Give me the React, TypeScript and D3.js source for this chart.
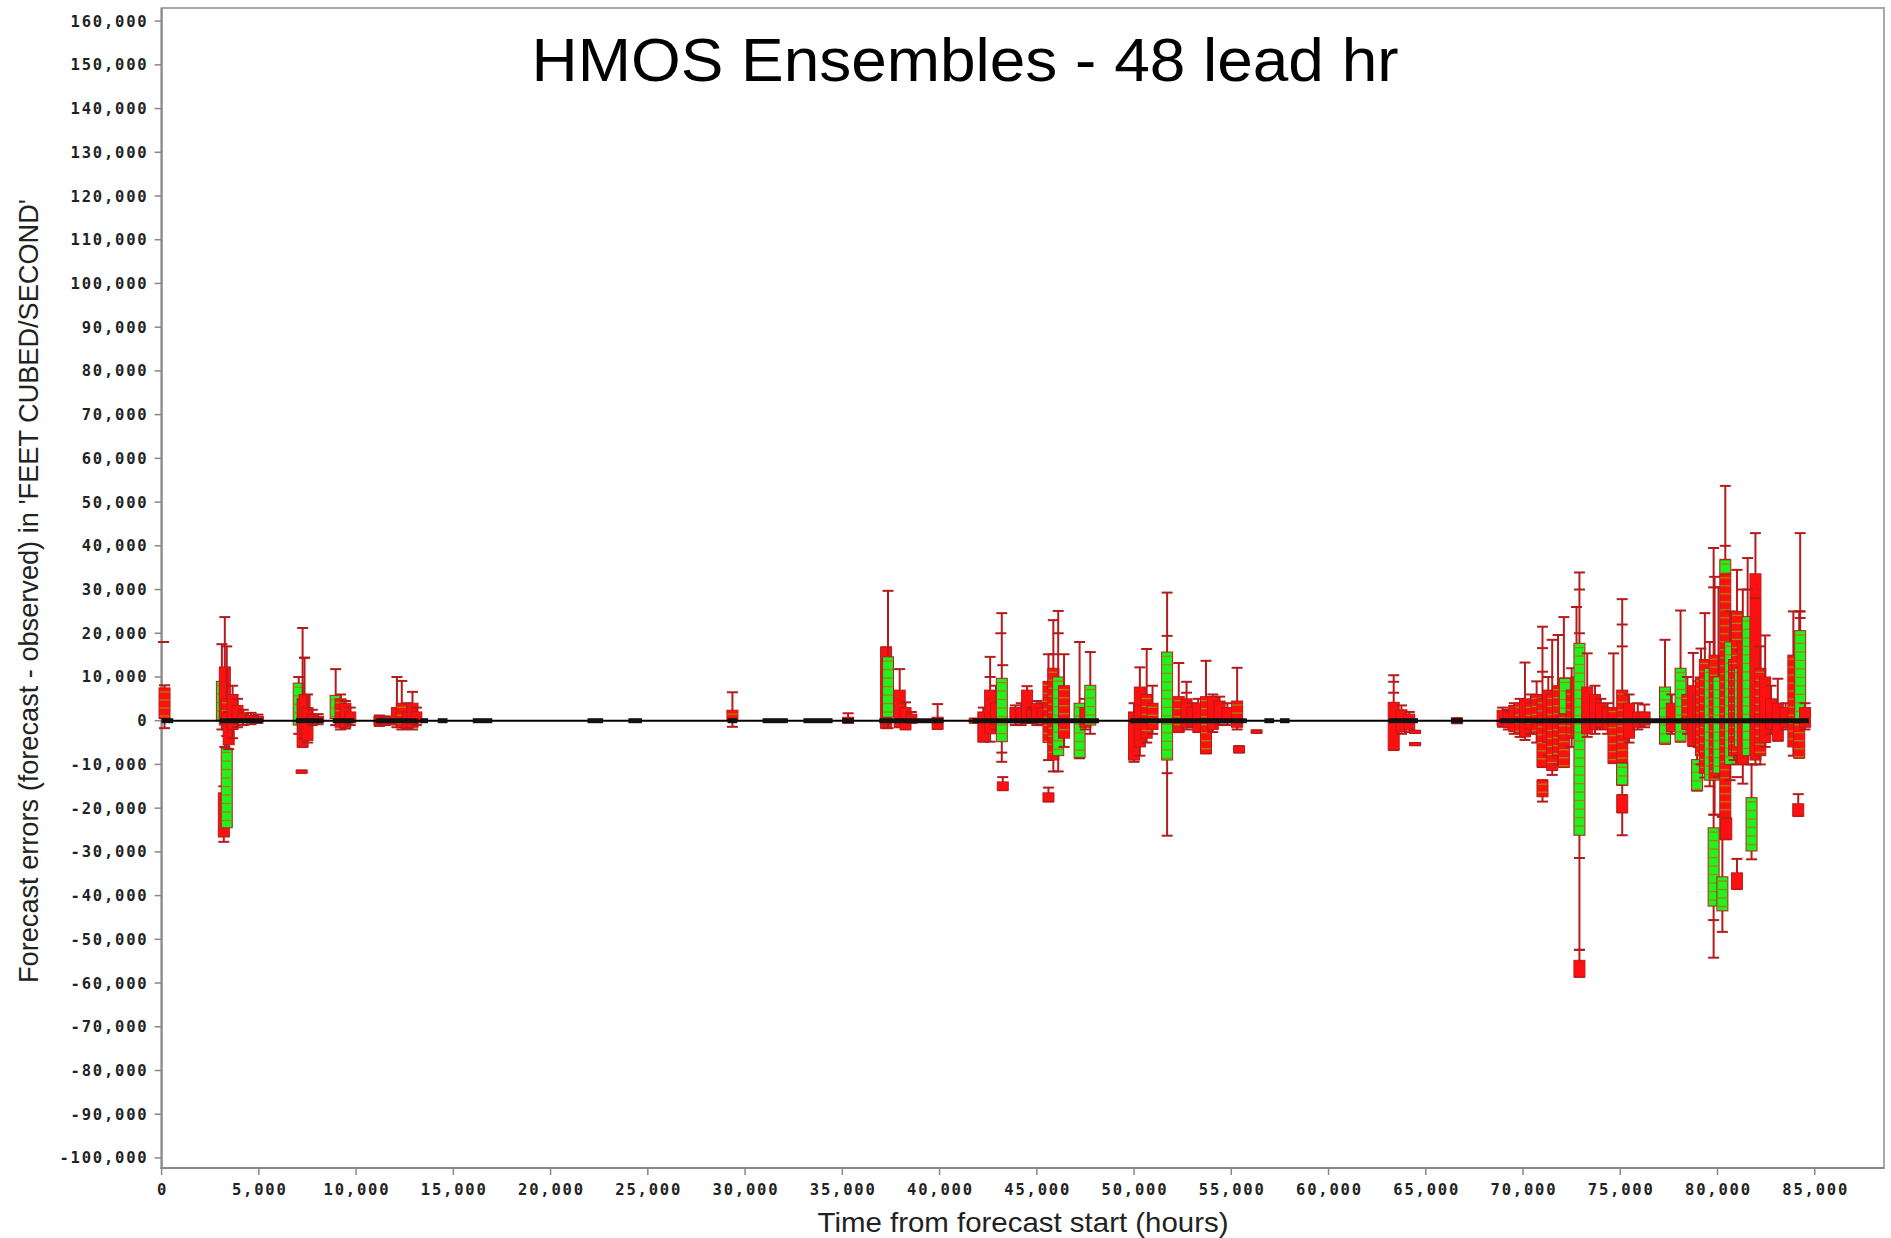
import React from 'react';
import * as d3 from 'd3';

const W = 1891;
const H = 1238;

const titleText = 'HMOS Ensembles - 48 lead hr';
const xLabel = 'Time from forecast start (hours)';
const yLabel = "Forecast errors (forecast - observed) in 'FEET CUBED/SECOND'";

const xTicks = [0, 5000, 10000, 15000, 20000, 25000, 30000, 35000, 40000, 45000, 50000, 55000, 60000, 65000, 70000, 75000, 80000, 85000];
const yTicks = [160000, 150000, 140000, 130000, 120000, 110000, 100000, 90000, 80000, 70000, 60000, 50000, 40000, 30000, 20000, 10000, 0, -10000, -20000, -30000, -40000, -50000, -60000, -70000, -80000, -90000, -100000];

// forecast errors in thousands of cfs: [time (h), min, boxLow, boxHigh, max, kind]
// kind: r = red box, s = red box with member stripes, g = green box with member stripes
const boxItems: [number, number, number, number, number, string][] = [
  [150, -1.7, 0.5, 7.5, 8.1, 's'],
  [3100, -2.0, 0.0, 9.0, 17.5, 'g'],
  [3250, -6.0, -1.0, 12.3, 23.7, 'r'],
  [3350, -3.5, 0.0, 5.0, 17.0, 's'],
  [3200, -27.7, -26.6, -16.5, -15.0, 'r'],
  [3350, -24.0, -24.5, -6.3, -2.0, 'g'],
  [3450, -6.5, -5.5, 0.0, 2.0, 'r'],
  [3650, -4.0, -2.0, 6.0, 8.0, 'r'],
  [3900, -1.5, -0.5, 3.5, 5.0, 'r'],
  [4200, -1.0, -0.3, 1.8, 2.5, 'r'],
  [4600, -0.8, -0.3, 1.2, 1.8, 'r'],
  [4950, -0.5, -0.2, 1.0, 1.4, 'r'],
  [7050, -3.0, -1.0, 8.6, 10.0, 'g'],
  [7250, -6.0, -6.0, 5.0, 21.2, 'r'],
  [7350, -4.0, -3.0, 6.0, 14.4, 'r'],
  [7200, -11.9, -12.0, -11.3, -11.4, 'r'],
  [7500, -5.0, -4.5, 3.0, 6.0, 'r'],
  [7750, -1.0, -0.5, 1.5, 2.5, 'r'],
  [8050, -0.8, -0.4, 1.0, 1.5, 'r'],
  [8950, -1.0, 0.5, 5.8, 11.8, 'g'],
  [9200, -2.0, -1.5, 5.0, 6.0, 's'],
  [9450, -1.8, -1.5, 4.0, 4.5, 'r'],
  [9700, -1.0, -0.5, 2.0, 3.0, 'r'],
  [11200, -1.2, -1.0, 1.0, 1.2, 'r'],
  [11500, -1.0, -0.8, 0.8, 1.0, 'r'],
  [12100, -1.5, -1.0, 3.0, 10.0, 'r'],
  [12350, -2.0, -1.5, 4.0, 9.1, 's'],
  [12650, -1.8, -1.5, 2.0, 4.0, 'r'],
  [12900, -2.0, -1.5, 4.0, 6.6, 'r'],
  [13100, -1.0, -0.5, 2.0, 3.0, 'r'],
  [29350, -1.4, 0.0, 2.4, 6.5, 's'],
  [35300, -0.5, -0.5, 0.8, 1.7, 'r'],
  [37250, -1.7, -1.7, 16.8, 16.8, 'r'],
  [37350, -1.7, 0.8, 14.6, 29.7, 'g'],
  [37950, -1.5, -1.5, 7.0, 11.8, 'r'],
  [38250, -2.0, -2.0, 3.0, 4.2, 'r'],
  [38550, -0.5, -0.5, 1.5, 2.0, 'r'],
  [39900, -1.9, -1.9, 0.8, 3.8, 'r'],
  [41800, -0.5, -0.4, 0.4, 0.5, 'r'],
  [42250, -4.8, -4.8, 2.0, 3.0, 'r'],
  [42600, -4.8, -3.0, 7.0, 14.6, 'r'],
  [42900, -2.0, -1.0, 4.0, 8.0, 'r'],
  [43200, -9.4, -4.8, 9.7, 24.6, 'g'],
  [43250, -15.9, -15.9, -14.0, -12.9, 'r'],
  [43900, -1.0, -0.5, 3.0, 3.5, 'r'],
  [44200, -1.0, -0.5, 3.0, 4.0, 'r'],
  [44500, -0.5, 0.0, 7.0, 7.9, 'r'],
  [44750, -0.5, 0.0, 2.5, 3.0, 'r'],
  [45000, -1.0, -0.5, 4.0, 4.5, 'r'],
  [45300, -1.0, -0.5, 3.0, 4.0, 'r'],
  [45600, -9.0, -5.0, 9.0, 15.2, 's'],
  [45850, -11.6, -9.0, 12.0, 23.0, 's'],
  [46100, -11.6, -8.0, 10.0, 25.1, 'g'],
  [46400, -6.0, -4.0, 8.0, 15.2, 's'],
  [45600, -18.5, -18.5, -16.5, -15.3, 'r'],
  [47200, -8.6, -8.4, 4.0, 18.0, 'g'],
  [47500, -2.0, -1.5, 3.0, 5.0, 'r'],
  [47750, -3.0, -1.0, 8.1, 15.7, 'g'],
  [50000, -9.4, -9.0, 2.0, 4.0, 'r'],
  [50300, -8.0, -6.0, 7.7, 12.2, 'r'],
  [50650, -5.0, -4.0, 6.0, 16.4, 's'],
  [50950, -3.0, -2.0, 4.0, 8.0, 's'],
  [51700, -26.3, -9.0, 15.7, 29.3, 'g'],
  [52300, -2.6, -2.6, 5.5, 13.2, 's'],
  [52700, -2.0, -1.5, 5.0, 8.9, 'r'],
  [53000, -1.5, -1.0, 3.0, 4.0, 'r'],
  [53300, -2.6, -2.6, 4.0, 5.0, 'r'],
  [53700, -7.5, -7.5, 5.5, 13.7, 's'],
  [54050, -2.6, -2.0, 5.5, 6.0, 'r'],
  [54400, -1.0, -0.5, 4.5, 5.5, 'r'],
  [54800, -1.0, -0.5, 3.0, 4.0, 'r'],
  [55300, -2.0, -1.5, 4.5, 12.1, 's'],
  [55400, -7.3, -7.3, -5.8, -5.8, 'r'],
  [56300, -2.8, -2.8, -2.2, -2.2, 'r'],
  [63350, -6.7, -6.7, 4.2, 10.4, 'r'],
  [63750, -3.0, -2.5, 2.5, 3.5, 'r'],
  [64150, -2.6, -2.0, 1.5, 2.0, 'r'],
  [64450, -5.6, -5.6, -5.1, -5.1, 'r'],
  [64450, -2.8, -2.8, -2.3, -2.3, 'r'],
  [66600, -0.6, -0.6, 0.6, 0.6, 'r'],
  [68950, -1.4, -1.2, 2.4, 3.0, 'r'],
  [69250, -2.0, -1.5, 2.0, 2.5, 'r'],
  [69550, -3.0, -2.5, 3.5, 4.0, 'r'],
  [69850, -3.7, -3.0, 4.0, 5.0, 's'],
  [70100, -4.4, -3.7, 5.0, 13.3, 'r'],
  [70400, -3.0, -2.0, 4.0, 6.0, 's'],
  [70700, -5.0, -3.0, 6.0, 9.0, 's'],
  [71000, -10.6, -10.6, 5.0, 21.5, 's'],
  [71000, -18.5, -17.4, -13.6, -13.6, 's'],
  [71300, -8.0, -5.0, 7.0, 10.0, 'r'],
  [71500, -12.4, -11.4, 6.0, 18.5, 's'],
  [71800, -10.0, -8.0, 8.0, 19.6, 's'],
  [72100, -10.6, -10.6, 1.6, 23.7, 's'],
  [72150, 1.6, 1.6, 9.7, 9.7, 'g'],
  [72500, -6.0, -4.0, 7.0, 12.0, 's'],
  [72750, -4.0, -3.0, 10.0, 26.0, 'r'],
  [72900, -52.4, -26.2, 17.7, 33.9, 'g'],
  [72900, -58.6, -58.6, -54.8, -52.4, 'r'],
  [73300, -3.7, -3.0, 7.7, 15.4, 'r'],
  [73700, -3.0, -2.0, 6.0, 8.0, 'r'],
  [74000, -2.0, -1.5, 4.0, 5.0, 'r'],
  [74350, -3.0, -2.0, 3.0, 4.0, 'r'],
  [74650, -9.7, -9.7, 3.0, 15.4, 's'],
  [75100, -26.2, -14.7, 7.0, 27.8, 's'],
  [75100, -14.7, -14.7, -9.7, -9.7, 'g'],
  [75100, -21.0, -21.0, -17.0, -17.0, 'r'],
  [75450, -5.0, -4.0, 4.0, 6.0, 'r'],
  [75900, -2.0, -1.5, 2.0, 4.0, 'r'],
  [76250, -1.5, -1.0, 2.0, 3.7, 'r'],
  [77300, -5.3, -5.3, 7.7, 18.5, 'g'],
  [77650, -3.0, -2.5, 4.0, 6.0, 'r'],
  [78100, -4.8, -4.8, 12.0, 25.2, 'g'],
  [78450, -3.0, -2.0, 6.0, 10.0, 's'],
  [78750, -5.8, -5.8, 8.0, 15.5, 'r'],
  [78950, -16.0, -16.0, -8.9, -5.8, 'g'],
  [79000, -6.0, -5.0, 6.0, 9.0, 'r'],
  [79150, -10.0, -8.0, 10.0, 16.5, 's'],
  [79350, -13.0, -12.0, 14.0, 24.6, 's'],
  [79600, -15.0, -13.6, 12.0, 18.0, 'g'],
  [79800, -54.2, -42.4, -24.5, 39.5, 'g'],
  [79850, -21.5, -13.6, 15.0, 32.9, 's'],
  [80050, -12.9, -12.0, 10.0, 30.5, 'g'],
  [80250, -48.3, -43.5, -35.7, -22.0, 'g'],
  [80400, -27.1, -27.1, 33.6, 53.7, 's'],
  [80400, 33.6, 33.6, 36.8, 36.8, 'g'],
  [80450, -27.1, -27.1, -22.3, -22.3, 'r'],
  [80650, -13.6, -10.0, 18.0, 25.0, 'g'],
  [80850, -9.0, -8.0, 14.0, 20.0, 's'],
  [81000, -38.5, -38.5, -34.8, -31.6, 'r'],
  [81000, -10.0, -8.0, 25.0, 34.5, 's'],
  [81150, -8.0, -6.0, 12.0, 16.0, 'g'],
  [81300, -14.4, -10.0, 18.0, 30.0, 'r'],
  [81550, -10.0, -8.0, 23.8, 37.2, 'g'],
  [81750, -31.7, -29.8, -17.6, -10.0, 'g'],
  [81950, -10.0, -9.0, 33.6, 42.9, 'r'],
  [82200, -10.0, -8.0, 12.0, 17.0, 's'],
  [82450, -6.0, -5.0, 10.0, 19.5, 'r'],
  [82750, -3.0, -2.0, 5.0, 8.0, 'r'],
  [83100, -4.6, -4.6, 4.0, 9.6, 'r'],
  [83500, -2.0, -1.5, 3.0, 4.0, 'r'],
  [83900, -8.0, -6.0, 15.0, 25.0, 's'],
  [84200, -8.5, -8.5, 0.0, 25.0, 's'],
  [84250, 0.0, 0.0, 20.6, 42.9, 'g'],
  [84150, -21.8, -21.8, -19.0, -16.8, 'r'],
  [84500, -2.0, -1.5, 3.0, 4.0, 'r'],
];

// isolated whisker caps (thousands of cfs): [time (h), value]
const capMarks: [number, number][] = [
  [100, 18.0], [7350, 14.4], [43150, 20.0], [43250, 12.7], [43200, -7.3],
  [51700, 19.4], [51700, -12.0], [52700, 6.4], [63350, 8.9], [63350, 6.4],
  [71000, 16.6], [71000, 11.2], [72900, 30.0], [72900, 20.0], [72900, -31.4],
  [75100, 22.0], [75100, 17.0], [79800, 30.5], [79800, -45.6], [79800, -21.5],
  [80400, 40.0], [81000, -12.9], [45850, 15.2], [46100, 20.0], [42600, 10.0],
  [84250, 25.0], [84250, 23.5], [81550, 30.0], [81950, 28.0],
];

// spans of near-zero members (h) that draw as a thick black band on the zero line
const zeroSpans: [number, number][] = [
  [0, 600], [3000, 5200], [6900, 8300], [8800, 9900], [11000, 13200],
  [13300, 13700], [14200, 14700], [16000, 17000], [21900, 22700], [24000, 24700],
  [29100, 29600], [30900, 32200], [33000, 34500], [35000, 35600], [36900, 40200],
  [41700, 48200], [49800, 55800], [56700, 57200], [57500, 58000], [63100, 64600],
  [66300, 66900], [68800, 84700],
];
const zeroLineEnd = 84700;

const RED = '#ff1010';
const GREEN = '#22f022';
const OLIVE = '#9c8a00';
const DARK = '#b41c1c';

export default function App() {
  const left = 161.6, right = 1884, top = 8, bottom = 1168;
  const x = d3.scaleLinear().domain([0, 88560]).range([left, right]);
  const y = d3.scaleLinear().domain([-102300, 163000]).range([bottom, top]);
  const fmt = d3.formatLocale({ decimal: '.', thousands: ',', grouping: [3], currency: ['$', ''], minus: '-' }).format(',');
  const boxW = 11;
  const capW = 11;
  const tickFont = { fontFamily: "'DejaVu Sans Mono', monospace", fontWeight: 700, fontSize: 15.5, letterSpacing: 1.8 } as const;

  const marks: React.ReactNode[] = [];
  boxItems.forEach((d, i) => {
    const [t, mn, lo, hi, mx, kind] = d;
    const cx = x(t);
    const yMin = y(mn * 1000), yMax = y(mx * 1000), yLo = y(lo * 1000), yHi = y(hi * 1000);
    const parts: React.ReactNode[] = [];
    if (yMin - yMax > 0.5) {
      parts.push(<line key="w" x1={cx} x2={cx} y1={yMax} y2={yMin} stroke={DARK} strokeWidth={2} />);
      parts.push(<line key="c1" x1={cx - capW / 2} x2={cx + capW / 2} y1={yMax} y2={yMax} stroke={DARK} strokeWidth={2} />);
      parts.push(<line key="c2" x1={cx - capW / 2} x2={cx + capW / 2} y1={yMin} y2={yMin} stroke={DARK} strokeWidth={2} />);
    }
    const bh = Math.max(3, yLo - yHi);
    const by = yLo - yHi < 3 ? (yLo + yHi) / 2 - 1.5 : yHi;
    parts.push(<rect key="b" x={cx - boxW / 2} y={by} width={boxW} height={bh} fill={kind === 'g' ? GREEN : RED} stroke={DARK} strokeWidth={1} />);
    if (kind !== 'r') {
      const step = kind === 'g' ? 8.5 : 8;
      d3.range(by + step / 2, by + bh - 1, step).forEach((sy, j) => {
        parts.push(<line key={'s' + j} x1={cx - boxW / 2 + 0.5} x2={cx + boxW / 2 - 0.5} y1={sy} y2={sy} stroke={OLIVE} strokeWidth={1.3} />);
      });
    }
    marks.push(<g key={i}>{parts}</g>);
  });

  return (
    <div style={{ position: 'absolute', left: 0, top: 0 }}>
      <svg width={W} height={H} style={{ display: 'block', background: '#fff' }}>
        <rect x={0} y={0} width={W} height={H} fill="#fff" />
        <text x={965} y={81} textAnchor="middle" fontFamily="'Liberation Sans', Arial, sans-serif" fontSize={62} textLength={867} lengthAdjust="spacingAndGlyphs" fill="#000">{titleText}</text>

        {/* plot frame */}
        <rect x={left} y={top} width={right - left} height={bottom - top} fill="none" stroke="#a8a8a8" strokeWidth={2} />
        <line x1={left} x2={left} y1={top} y2={bottom + 1} stroke="#888" strokeWidth={2} />
        <line x1={left - 1} x2={right} y1={bottom} y2={bottom} stroke="#888" strokeWidth={2} />

        {/* y axis */}
        {yTicks.map((v) => (
          <g key={'y' + v}>
            <line x1={left - 7} x2={left} y1={y(v)} y2={y(v)} stroke="#888" strokeWidth={1.5} />
            <text x={148.5} y={y(v) + 5.5} textAnchor="end" {...tickFont} fill="#222">{fmt(v)}</text>
          </g>
        ))}
        {/* x axis */}
        {xTicks.map((v) => (
          <g key={'x' + v}>
            <line x1={x(v)} x2={x(v)} y1={bottom} y2={bottom + 7} stroke="#888" strokeWidth={1.5} />
            <text x={x(v) + 0.9} y={1195} textAnchor="middle" {...tickFont} fill="#222">{fmt(v)}</text>
          </g>
        ))}

        <text x={1023} y={1232} textAnchor="middle" fontFamily="'Liberation Sans Narrow', 'Liberation Sans', Arial, sans-serif" fontSize={28} textLength={411} lengthAdjust="spacingAndGlyphs" fill="#222">{xLabel}</text>
        <text transform={`translate(38, 591) rotate(-90)`} textAnchor="middle" fontFamily="'Liberation Sans Narrow', 'Liberation Sans', Arial, sans-serif" fontSize={28} textLength={784} lengthAdjust="spacingAndGlyphs" fill="#222">{yLabel}</text>

        {/* data */}
        <g>{marks}</g>
        <g>
          {capMarks.map(([t, v], i) => (
            <line key={'cm' + i} x1={x(t) - capW / 2} x2={x(t) + capW / 2} y1={y(v * 1000)} y2={y(v * 1000)} stroke={DARK} strokeWidth={2} />
          ))}
        </g>
        <line x1={x(0)} x2={x(zeroLineEnd)} y1={y(0)} y2={y(0)} stroke="#000" strokeWidth={2} />
        {zeroSpans.map(([a, b], i) => (
          <line key={'z' + i} x1={x(a)} x2={x(b)} y1={y(0)} y2={y(0)} stroke="#111" strokeWidth={5} />
        ))}
      </svg>
    </div>
  );
}
